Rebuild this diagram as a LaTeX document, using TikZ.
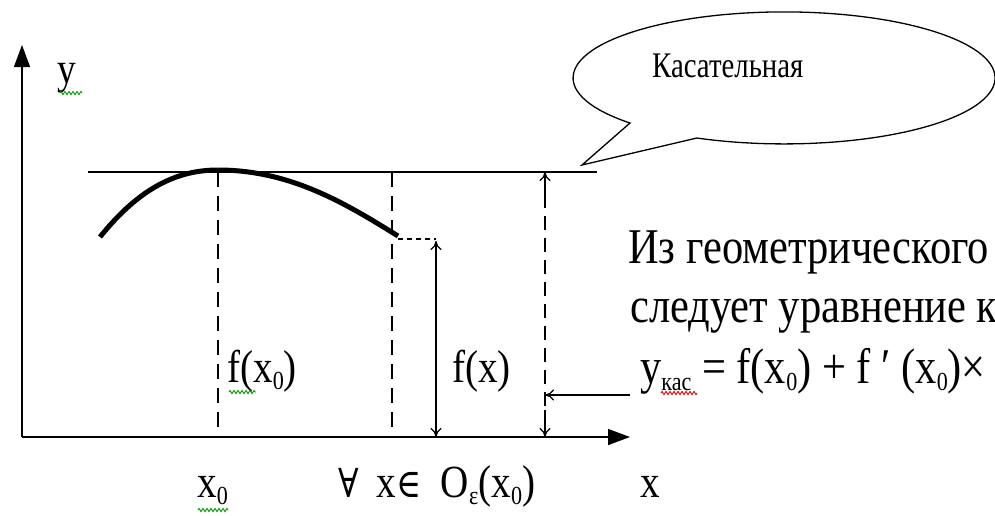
\documentclass[tikz,border=0pt]{standalone}
\usepackage{fontspec}
\setmainfont{Liberation Serif}
\newfontfamily\bigfont[FakeStretch=0.85]{Liberation Serif}
\newfontfamily\kasfont[FakeStretch=0.8]{Liberation Serif}
\newfontfamily\symfont[FakeStretch=0.85]{DejaVu Serif}
\usetikzlibrary{arrows.meta,decorations.pathmorphing}
\newcommand\lsub[1]{\raisebox{-7pt}{\fontsize{26}{26}\selectfont #1}}
\begin{document}
\begin{tikzpicture}[x=1pt,y=-1pt,
  >={To[length=9pt,width=11pt]},
  big/.style={font=\bigfont\fontsize{46}{50}\selectfont, inner sep=0pt, anchor=base west},
  bigger/.style={font=\bigfont\fontsize{50}{54}\selectfont, inner sep=0pt, anchor=base west},
  small/.style={font=\kasfont\fontsize{36}{40}\selectfont, inner sep=0pt, anchor=base west},
  axisline/.style={line width=1.5pt, -{Triangle[length=22pt,width=16pt]}},
  vdashed/.style={line width=1.3pt, dash pattern=on 15pt off 9pt},
  sdashed/.style={line width=1.3pt, dash pattern=on 5pt off 4pt},
  dim/.style={line width=1.2pt},
  squig/.style={green!60!black, line width=0.9pt, decorate, decoration={zigzag,segment length=4pt,amplitude=1.6pt}},
  rsquig/.style={red!85!black, line width=0.9pt, decorate, decoration={zigzag,segment length=4pt,amplitude=1.6pt}}
]
\useasboundingbox[fill=white] (0,0) rectangle (995,515);

% geometry
\coordinate (O) at (22,437);
\coordinate (Ytip) at (22,45);
\coordinate (Xtip) at (630,437);
\coordinate (T1) at (88,172);
\coordinate (T2) at (597,172);
\coordinate (A) at (218,172);
\coordinate (A0) at (218,437);
\coordinate (B) at (392,172);
\coordinate (B0) at (392,437);
\coordinate (C1) at (100,237);
\coordinate (C2) at (218,170);
\coordinate (C3) at (398,236);
\coordinate (H1) at (398,239);
\coordinate (H2) at (436,239);
\coordinate (F1) at (436,241);
\coordinate (F0) at (436,437);
\coordinate (R1) at (545,172);
\coordinate (R1b) at (545,200);
\coordinate (R0) at (545,437);
\coordinate (R0b) at (545,410);
\coordinate (R2) at (545,395);
\coordinate (S) at (630,395);

% axes
\draw[axisline] (O) -- (Ytip);
\draw[axisline] (O) -- (Xtip);

% tangent
\draw[line width=1.5pt] (T1) -- (T2);

% curve
\draw[line width=5pt] (C1) .. controls (140,187) and (178,170) .. (C2)
   .. controls (290,170) and (345,203) .. (C3);

% dashed verticals
\draw[vdashed] (A) -- (A0);
\draw[vdashed] (B) -- (B0);
\draw[sdashed] (H1) -- (H2);
\draw[vdashed, dash pattern=on 14pt off 8pt] (R1) -- (R0);
\draw[dim, ->] (R1b) -- (R1);
\draw[dim, ->] (R0b) -- (R0);
\draw[dim, <->] (F1) -- (F0);
\draw[dim, ->] (S) -- (R2);

% callout
\draw[line width=1.3pt, fill=white] (630,123) arc[start angle=223.1, end angle=-114.4, x radius=211pt, y radius=66pt] -- (582,165) -- cycle;
\node[small] (kas) at (652,77) {Касательная};

% labels
\node[big, font=\bigfont\fontsize{44}{48}\selectfont] (ylab) at (57,83) {y};
\draw[squig] (60,93) -- (82,93);
\node[big] (fx0) at (227,382) {f(x\lsub{0})};
\draw[squig] (229,392) -- (256,392);
\node[big] (fx) at (452,382) {f(x)};
\node[big] (x0) at (197,497) {x\lsub{0}};
\draw[squig] (198,510) -- (228,510);
\node[big] (nbhd) at (338,497) {{\symfont\fontsize{40}{44}\selectfont ∀}\hspace{8pt} x{\symfont\fontsize{40}{44}\selectfont ∈}\hspace{10pt} O\lsub{ε}(x\lsub{0})};
\node[big] (xlab) at (640,497) {x};

% right text
\node[bigger] (l1) at (628,263) {Из геометрического};
\node[bigger] (l2) at (630,322) {следует уравнение к};
\node[bigger] (l3) at (640,383) {y\lsub{кас} = f(x\lsub{0}) + f ′ (x\lsub{0})×};
\draw[rsquig] (661,393) -- (697,393);
\end{tikzpicture}
\end{document}
